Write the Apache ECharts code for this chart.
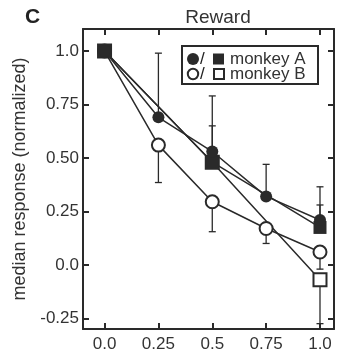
<!DOCTYPE html>
<html>
<head>
<meta charset="utf-8">
<script src="https://cdn.jsdelivr.net/npm/echarts@6/dist/echarts.min.js"></script>
<style>
  html, body { margin: 0; padding: 0; background: #fff; }
  #chart { width: 341px; height: 354px; }
</style>
</head>
<body>
<div id="chart"></div>
<script>
// Reward magnitude (x) and normalized median response (y)
const xCircle = [0, 0.25, 0.5, 0.75, 1.0];
const circleA = [1.0, 0.69, 0.53, 0.32, 0.21];
const circleB = [1.0, 0.56, 0.295, 0.17, 0.06];

const xSquare = [0, 0.5, 1.0];
const squareA = [1.0, 0.48, 0.175];
const squareB = [1.0, 0.48, -0.07];

// Error bar extents: [x, low, high]
const errCircleA = [[0.25, 0.69, 0.99], [0.5, 0.53, 0.79], [0.75, 0.32, 0.47], [1.0, 0.21, 0.365]];
const errCircleB = [[0.25, 0.385, 0.56], [0.5, 0.155, 0.295], [0.75, 0.10, 0.17], [1.0, -0.02, 0.06]];
const errSquareA = [[0.5, 0.48, 0.65], [1.0, 0.175, 0.28]];
const errSquareB = [[1.0, -0.275, -0.07]];

// Tick positions and labels
const xTicks = [0, 0.25, 0.5, 0.75, 1.0];
const xTickLabels = ['0.0', '0.25', '0.5', '0.75', '1.0'];
const yTicks = [-0.25, 0, 0.25, 0.5, 0.75, 1.0];
const yTickLabels = ['-0.25', '0.0', '0.25', '0.50', '0.75', '1.0'];

const INK = '#2a2a2a';
const FONT = '"Liberation Sans", Arial, Helvetica, sans-serif';

function labelFor(ticks, labels) {
  return v => {
    for (let i = 0; i < ticks.length; i++) {
      if (Math.abs(ticks[i] - v) < 1e-6) return labels[i];
    }
    return '';
  };
}

function pairs(xs, ys) { return xs.map((x, i) => [x, ys[i]]); }

function errorBarSeries(data) {
  return {
    type: 'custom',
    z: 1,
    silent: true,
    data: data,
    renderItem: function (params, api) {
      const x = api.value(0), lo = api.value(1), hi = api.value(2);
      const p1 = api.coord([x, lo]);
      const p2 = api.coord([x, hi]);
      const w = 3.5;
      const style = { stroke: INK, lineWidth: 1.3 };
      return {
        type: 'group',
        children: [
          { type: 'line', shape: { x1: p1[0], y1: p1[1], x2: p2[0], y2: p2[1] }, style: style },
          { type: 'line', shape: { x1: p1[0] - w, y1: p1[1], x2: p1[0] + w, y2: p1[1] }, style: style },
          { type: 'line', shape: { x1: p2[0] - w, y1: p2[1], x2: p2[0] + w, y2: p2[1] }, style: style }
        ]
      };
    }
  };
}

function lineSeries(name, data, symbol, size, filled, z) {
  return {
    name: name,
    type: 'line',
    z: z,
    data: data,
    symbol: symbol,
    symbolSize: size,
    showAllSymbol: true,
    lineStyle: { color: INK, width: 1.5 },
    itemStyle: filled
      ? { color: INK, borderColor: INK, borderWidth: 0 }
      : { color: '#fff', borderColor: INK, borderWidth: 2 },
    emphasis: { disabled: true },
    animation: false
  };
}

const axisLine = { show: true, onZero: false, lineStyle: { color: INK, width: 2 } };

const chart = echarts.init(document.getElementById('chart'), null, { renderer: 'canvas' });

chart.setOption({
  animation: false,
  grid: { left: 83, right: 7, top: 29, bottom: 25 },
  title: [
    { text: 'C', left: 20, top: 2, textStyle: { fontFamily: FONT, fontSize: 21, fontWeight: 'bold', color: '#222' } },
    { text: 'Reward', left: 213, top: 3, textAlign: 'center', textStyle: { fontFamily: FONT, fontSize: 19, fontWeight: 'normal', color: '#333' } }
  ],
  xAxis: [
    {
      type: 'value', position: 'bottom', min: -0.1, max: 1.065,
      axisLine: axisLine,
      axisTick: { show: true, inside: true, length: 6, customValues: xTicks, lineStyle: { color: INK, width: 2 } },
      axisLabel: { show: true, customValues: xTicks, formatter: labelFor(xTicks, xTickLabels), margin: 7, fontFamily: FONT, fontSize: 17, color: '#333' },
      splitLine: { show: false }
    },
    {
      type: 'value', position: 'top', min: -0.1, max: 1.065,
      axisLine: axisLine,
      axisTick: { show: true, inside: true, length: 6, customValues: xTicks, lineStyle: { color: INK, width: 2 } },
      axisLabel: { show: false },
      splitLine: { show: false }
    }
  ],
  yAxis: [
    {
      type: 'value', position: 'left', min: -0.3, max: 1.103,
      name: 'median response (normalized)', nameLocation: 'middle', nameGap: 53,
      nameTextStyle: { fontFamily: FONT, fontSize: 18, color: '#333' },
      axisLine: axisLine,
      axisTick: { show: true, inside: true, length: 6, customValues: yTicks, lineStyle: { color: INK, width: 2 } },
      axisLabel: { show: true, customValues: yTicks, formatter: labelFor(yTicks, yTickLabels), margin: 4, fontFamily: FONT, fontSize: 17, color: '#333' },
      splitLine: { show: false }
    },
    {
      type: 'value', position: 'right', min: -0.3, max: 1.103,
      axisLine: axisLine,
      axisTick: { show: true, inside: true, length: 6, customValues: yTicks, lineStyle: { color: INK, width: 2 } },
      axisLabel: { show: false },
      splitLine: { show: false }
    }
  ],
  series: [
    errorBarSeries(errCircleA),
    errorBarSeries(errCircleB),
    errorBarSeries(errSquareA),
    errorBarSeries(errSquareB),
    lineSeries('monkey B square', pairs(xSquare, squareB), 'rect', 13, false, 2),
    lineSeries('monkey B circle', pairs(xCircle, circleB), 'circle', 13, false, 3),
    lineSeries('monkey A square', pairs(xSquare, squareA), 'rect', 13, true, 4),
    lineSeries('monkey A circle', pairs(xCircle, circleA), 'circle', 12, true, 5)
  ],
  graphic: [
    {
      type: 'group', left: 181, top: 45, z: 100,
      children: [
        { type: 'rect', shape: { x: 0, y: 0, width: 136, height: 38 }, style: { fill: '#fff', stroke: INK, lineWidth: 2 } },
        { type: 'circle', shape: { cx: 11, cy: 13, r: 6 }, style: { fill: INK } },
        { type: 'text', style: { x: 18, y: 13, text: '/', fill: '#222', font: '17px ' + FONT, verticalAlign: 'middle' } },
        { type: 'rect', shape: { x: 31, y: 7.5, width: 11, height: 11 }, style: { fill: INK } },
        { type: 'text', style: { x: 48, y: 13, text: 'monkey A', fill: '#333', font: '17px ' + FONT, verticalAlign: 'middle' } },
        { type: 'circle', shape: { cx: 11, cy: 28, r: 5.2 }, style: { fill: '#fff', stroke: INK, lineWidth: 2 } },
        { type: 'text', style: { x: 18, y: 28, text: '/', fill: '#222', font: '17px ' + FONT, verticalAlign: 'middle' } },
        { type: 'rect', shape: { x: 32, y: 23, width: 10, height: 10 }, style: { fill: '#fff', stroke: INK, lineWidth: 2 } },
        { type: 'text', style: { x: 48, y: 28, text: 'monkey B', fill: '#333', font: '17px ' + FONT, verticalAlign: 'middle' } }
      ]
    }
  ]
});
</script>
</body>
</html>
